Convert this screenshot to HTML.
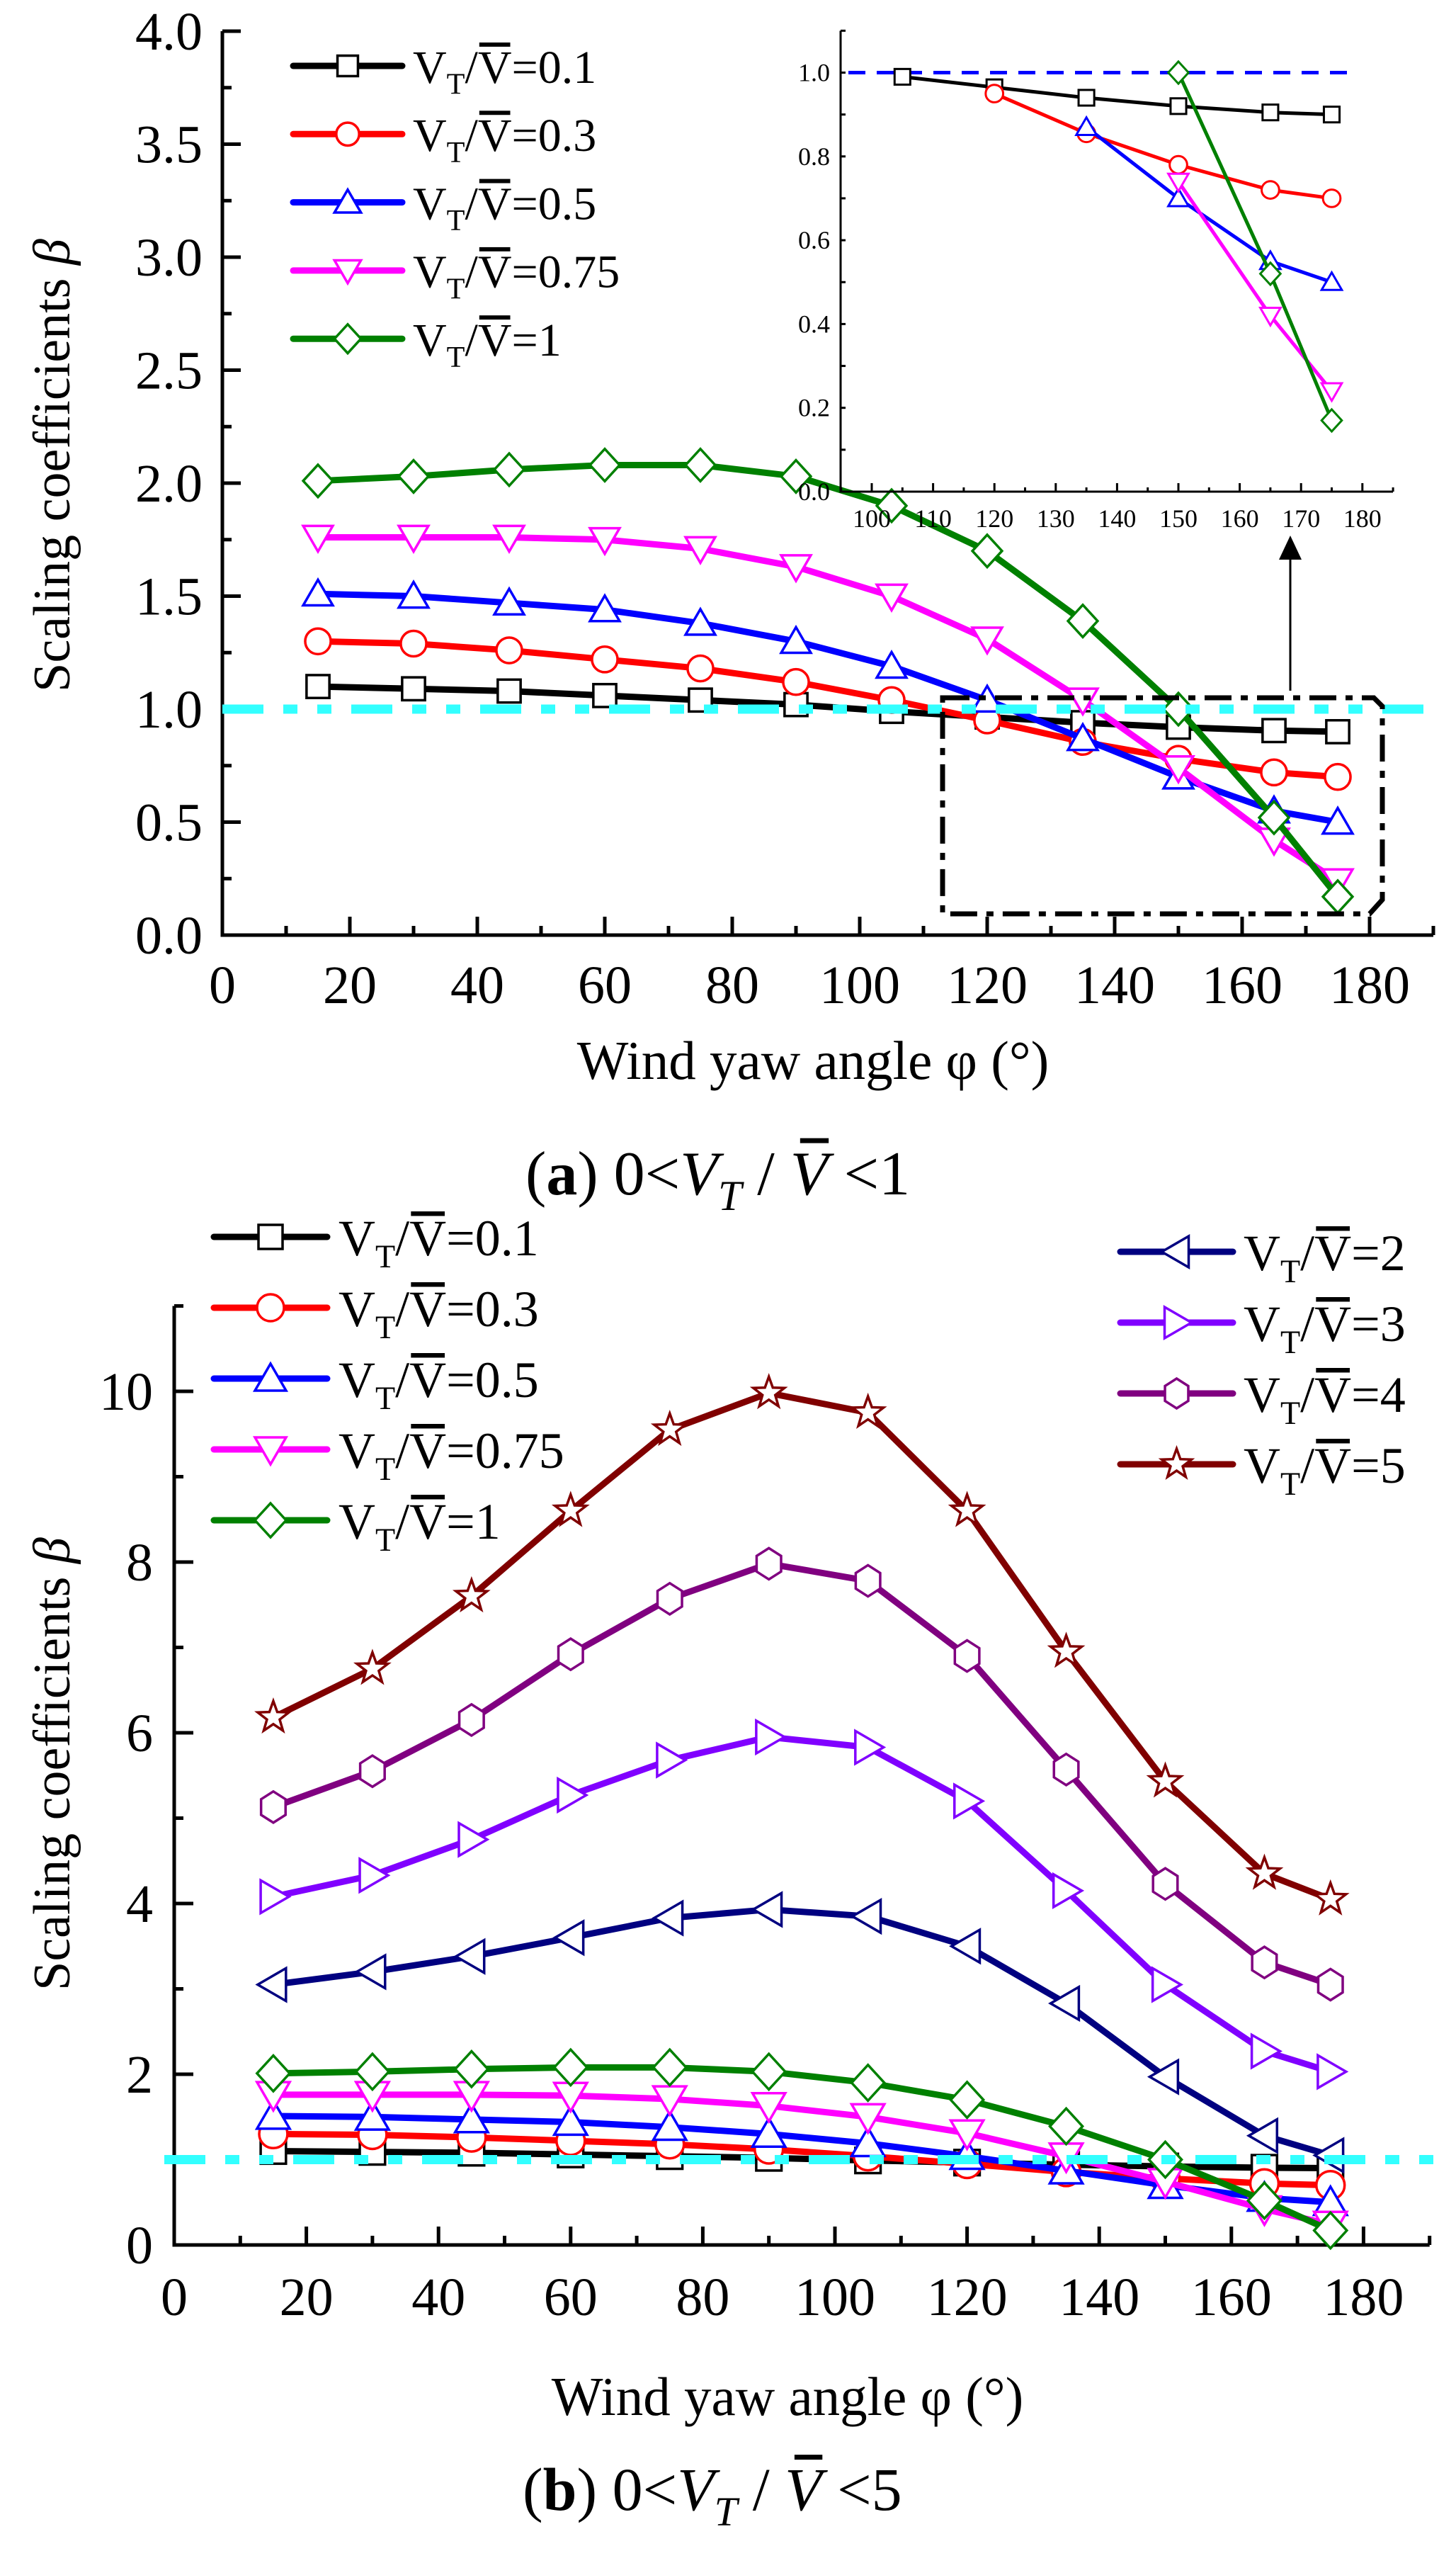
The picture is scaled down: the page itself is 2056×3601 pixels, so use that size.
<!DOCTYPE html>
<html><head><meta charset="utf-8">
<style>
html,body{margin:0;padding:0;background:#fff;}
svg{display:block;}
svg text, svg tspan{font-family:"Times New Roman","Liberation Serif","DejaVu Serif","Noto Serif CJK SC",serif !important;}
</style></head>
<body>
<svg id="fig" width="2056" height="3601" viewBox="0 0 2056 3601" xmlns="http://www.w3.org/2000/svg">
<rect width="2056" height="3601" fill="#fff"/>
</svg>
<script>
// ---------- data ----------
const anglesA = [15,30,45,60,75,90,105,120,135,150,165,175];
const ratio01 = [1.10,1.09,1.08,1.06,1.04,1.02,0.99,0.965,0.94,0.92,0.905,0.90];
const ratio03 = [1.30,1.29,1.26,1.22,1.18,1.12,1.04,0.95,0.855,0.78,0.72,0.70];
const ratio05 = [1.51,1.50,1.47,1.44,1.38,1.30,1.19,1.04,0.87,0.70,0.55,0.50];
const ratio075 = [1.76,1.76,1.76,1.75,1.71,1.63,1.50,1.31,1.04,0.74,0.42,0.24];
const ratio1 = [2.01,2.03,2.06,2.08,2.08,2.03,1.90,1.70,1.39,1.00,0.52,0.17];
const ratio2 = [3.05,3.20,3.38,3.60,3.83,3.93,3.85,3.50,2.83,1.97,1.28,1.05];
const ratio3 = [4.08,4.33,4.75,5.27,5.68,5.95,5.83,5.20,4.15,3.05,2.27,2.03];
const ratio4 = [5.13,5.55,6.15,6.92,7.57,7.98,7.78,6.90,5.57,4.23,3.31,3.05];
const ratio5 = [6.18,6.75,7.60,8.60,9.55,9.98,9.75,8.60,6.95,5.43,4.35,4.05];
const xTicksMain = [0,20,40,60,80,100,120,140,160,180];
const yTicksA = ["0.0","0.5","1.0","1.5","2.0","2.5","3.0","3.5","4.0"];
const yTicksB = [0,2,4,6,8,10];
const xTicksInset = [100,110,120,130,140,150,160,170,180];
const yTicksInset = ["0.0","0.2","0.4","0.6","0.8","1.0"];
const labelsLow = ["0.1","0.3","0.5","0.75","1"];
const labelsHigh = ["2","3","4","5"];

// ---------- scales ----------
const xA = v => 314 + v*9;
const yA = v => 1320 - v*319;
const xI = v => 1231 + (v-100)*8.66;
const yI = v => 694 - v*591.5;
const xB = v => 246 + v*9.33;
const yB = v => 3169 - v*120.5;

const NS = "http://www.w3.org/2000/svg";
const FF = "Times New Roman, Liberation Serif, DejaVu Serif, Noto Serif CJK SC, serif";
const svg = document.getElementById('fig');
function mk(tag, attrs, parent){
  const e = document.createElementNS(NS, tag);
  for (const k in attrs) e.setAttribute(k, attrs[k]);
  if (tag==='text') e.setAttribute('font-family', FF);
  (parent||svg).appendChild(e);
  return e;
}

const styles = [
  {c:"#000000", m:"square"},
  {c:"#ff0000", m:"circle"},
  {c:"#0000ff", m:"up"},
  {c:"#ff00ff", m:"down"},
  {c:"#008000", m:"diamond"}
];
const stylesHigh = [
  {c:"#000080", m:"left"},
  {c:"#8000ff", m:"right"},
  {c:"#800080", m:"hex"},
  {c:"#800000", m:"star"}
];
const seriesLow = [ratio01, ratio03, ratio05, ratio075, ratio1];
const seriesHigh = [ratio2, ratio3, ratio4, ratio5];

function marker(g, shape, cx, cy, s, color, sw){
  let el;
  const h = s/2;
  if (shape==="square") el = mk('rect',{x:cx-h*0.85,y:cy-h*0.85,width:s*0.85,height:s*0.85},g);
  else if (shape==="circle") el = mk('circle',{cx:cx,cy:cy,r:h*0.95},g);
  else if (shape==="up") el = mk('polygon',{points:`${cx},${cy-h*1.05} ${cx+h*1.1},${cy+h*0.85} ${cx-h*1.1},${cy+h*0.85}`},g);
  else if (shape==="down") el = mk('polygon',{points:`${cx},${cy+h*1.05} ${cx+h*1.1},${cy-h*0.85} ${cx-h*1.1},${cy-h*0.85}`},g);
  else if (shape==="diamond") el = mk('polygon',{points:`${cx},${cy-h*1.2} ${cx+h*1.1},${cy} ${cx},${cy+h*1.2} ${cx-h*1.1},${cy}`},g);
  else if (shape==="left") el = mk('polygon',{points:`${cx-h*1.05},${cy} ${cx+h*0.85},${cy-h*1.1} ${cx+h*0.85},${cy+h*1.1}`},g);
  else if (shape==="right") el = mk('polygon',{points:`${cx+h*1.05},${cy} ${cx-h*0.85},${cy-h*1.1} ${cx-h*0.85},${cy+h*1.1}`},g);
  else if (shape==="hex"){
    let p=[]; for(let i=0;i<6;i++){const a=Math.PI/2+i*Math.PI/3;p.push((cx+h*0.95*Math.cos(a))+","+(cy+h*1.05*Math.sin(a)));}
    el = mk('polygon',{points:p.join(' ')},g);
  } else if (shape==="star"){
    let p=[]; for(let i=0;i<10;i++){const a=-Math.PI/2+i*Math.PI/5;const r=i%2?h*0.45:h*1.1;p.push((cx+r*Math.cos(a))+","+(cy+r*Math.sin(a)));}
    el = mk('polygon',{points:p.join(' ')},g);
  }
  el.setAttribute('fill','#fff');
  el.setAttribute('stroke',color);
  el.setAttribute('stroke-width',sw);
  
  
  return el;
}

function drawSeries(xs, ys, xf, yf, st, lw, ms, msw, name){
  const g = mk('g',{});
  
  
  const pts = xs.map((x,i)=>xf(x)+","+yf(ys[i])).join(' ');
  const pl = mk('polyline',{points:pts,fill:'none',stroke:st.c,'stroke-width':lw,'stroke-linejoin':'round','stroke-linecap':'round'},g);
  
  
  xs.forEach((x,i)=>marker(g, st.m, xf(x), yf(ys[i]), ms, st.c, msw));
}

function text(str, x, y, size, anchor, parent){
  const t = mk('text',{x:x,y:y,'font-size':size,'text-anchor':anchor||'start',fill:'#000'},parent);
  t.textContent = str;
  return t;
}

function legendLabel(x, y, fs, val, name){
  const t = mk('text',{x:x,y:y,'font-size':fs,fill:'#000'});
  
  
  const a = mk('tspan',{},t); a.textContent="V";
  const b = mk('tspan',{dy:fs*0.24,'font-size':fs*0.64},t); b.textContent="T";
  const c = mk('tspan',{dy:-fs*0.24},t); c.textContent="/V="+val;
  const s = t.getStartPositionOfChar(3), e = t.getEndPositionOfChar(3);
  const bar = mk('rect',{x:s.x+fs*0.03,y:y-fs*0.66-fs*0.2,width:e.x-s.x-fs*0.06,height:fs*0.09,fill:'#000'});
  
  
}

function legendEntry(x1, x2, y, st, lw, ms, tx, fs, val, name){
  const g = mk('g',{});
  
  
  mk('line',{x1:x1,y1:y,x2:x2,y2:y,stroke:st.c,'stroke-width':lw,'stroke-linecap':'round'},g);
  marker(g, st.m, (x1+x2)/2, y, ms, st.c, 3.5);
  legendLabel(tx, y+fs*0.36, fs, val, name+'-label');
}

function caption(x, y, fs, letter, upper, name){
  const cap = mk('text',{x:x,y:y,'font-size':fs});
  
  
  cap.innerHTML = '(<tspan font-weight="bold">'+letter+'</tspan>) 0&lt;<tspan font-style="italic">V</tspan><tspan font-style="italic" font-size="'+(fs*0.68)+'" dy="22">T</tspan><tspan dy="-22"> / </tspan><tspan font-style="italic">V</tspan> &lt;'+upper;
  const s = cap.getStartPositionOfChar(11), e = cap.getEndPositionOfChar(11);
  const bar = mk('rect',{x:s.x+fs*0.16,y:y-fs*0.72-16,width:(e.x-s.x)*0.75,height:7,fill:'#000'});
  
  
}

// ---------- Panel A ----------
(function(){
  const ax = mk('g',{});
  
  
  mk('path',{d:`M${xA(0)},${yA(4)} V${yA(0)} H${xA(190)}`,fill:'none',stroke:'#000','stroke-width':5},ax);
  for(let v=0; v<=4.001; v+=0.25){
    const major = Math.abs(v*2-Math.round(v*2))<1e-6;
    mk('line',{x1:xA(0),y1:yA(v),x2:xA(0)+(major?26:13),y2:yA(v),stroke:'#000','stroke-width':5},ax);
  }
  yTicksA.forEach(l=>{const t=text(l,286,yA(parseFloat(l))+26,76,'end',ax);
    
    });
  for(let v=10; v<=190; v+=10){
    const major = v%20===0;
    mk('line',{x1:xA(v),y1:yA(0),x2:xA(v),y2:yA(0)-(major?26:13),stroke:'#000','stroke-width':5},ax);
  }
  xTicksMain.forEach(v=>{const t=text(String(v),xA(v),1416,76,'middle',ax);
    
    });
  const xt = text("Wind yaw angle φ (°)",1148,1523,77,'middle');
  
  
  const yt = mk('text',{x:0,y:0,'font-size':74,'text-anchor':'middle',transform:'translate(98,657) rotate(-90)'});
  
  
  yt.innerHTML = 'Scaling coefficients  <tspan font-style="italic">β</tspan>';

  seriesLow.forEach((s,i)=>drawSeries(anglesA,s,xA,yA,styles[i],9,38,3.5,'series-a-'+labelsLow[i]));

  const cl = mk('line',{x1:xA(0),y1:yA(1),x2:2020,y2:yA(1),stroke:'#33ffff','stroke-width':13,'stroke-dasharray':'58 28 20 28 20 28'});
  
  

  const zb = mk('path',{d:'M1331,985 H1940 L1952,997 V1270 L1934,1290 H1331 Z',fill:'none',stroke:'#000','stroke-width':7,'stroke-dasharray':'38 13 10 13'});
  
  
  const ar = mk('line',{x1:1822,y1:975,x2:1822,y2:780,stroke:'#000','stroke-width':3});
  
  
  const ah = mk('polygon',{points:'1822,756 1806,790 1838,790',fill:'#000'});
  
  

  labelsLow.forEach((l,i)=>legendEntry(414,568,93+i*96.3,styles[i],9,34,583,66,l,'legend-a-'+l));

  caption(742,1686,88,'a','1','caption-a');
})();

// ---------- Inset ----------
(function(){
  const g = mk('g',{});
  
  
  mk('path',{d:`M1187,${yI(1.1)} V${yI(0)} H1967`,fill:'none',stroke:'#000','stroke-width':3},g);
  for(let v=0; v<=1.1001; v+=0.1){
    mk('line',{x1:1187,y1:yI(v),x2:1194,y2:yI(v),stroke:'#000','stroke-width':3},g);
  }
  yTicksInset.forEach(l=>{const t=text(l,1172,yI(parseFloat(l))+12,36,'end',g);
    
    });
  for(let v=95; v<=185; v+=5){
    const major = v%10===0;
    mk('line',{x1:xI(v),y1:yI(0),x2:xI(v),y2:yI(0)-(major?12:6),stroke:'#000','stroke-width':3},g);
  }
  xTicksInset.forEach(v=>{const t=text(String(v),xI(v),744,36,'middle',g);
    
    });
  const dl = mk('line',{x1:1198,y1:yI(1),x2:1905,y2:yI(1),stroke:'#0000ff','stroke-width':5,'stroke-dasharray':'24 16'},g);
  
  
  const startIdx = [6,7,8,9,9];
  seriesLow.forEach((s,i)=>{
    drawSeries(anglesA.slice(startIdx[i]), s.slice(startIdx[i]), xI, yI, styles[i], 5, 26, 3, 'inset-series-'+labelsLow[i]);
  });
})();

// ---------- Panel B ----------
(function(){
  const ax = mk('g',{});
  
  
  mk('path',{d:`M${xB(0)},${yB(11)} V${yB(0)} H${xB(190)}`,fill:'none',stroke:'#000','stroke-width':5},ax);
  for(let v=0; v<=11; v+=1){
    const major = v%2===0;
    mk('line',{x1:xB(0),y1:yB(v),x2:xB(0)+(major?27:13),y2:yB(v),stroke:'#000','stroke-width':5},ax);
  }
  yTicksB.forEach(v=>{const t=text(String(v),216,yB(v)+26,76,'end',ax);
    
    });
  for(let v=10; v<=190; v+=10){
    const major = v%20===0;
    mk('line',{x1:xB(v),y1:yB(0),x2:xB(v),y2:yB(0)-(major?26:13),stroke:'#000','stroke-width':5},ax);
  }
  xTicksMain.forEach(v=>{const t=text(String(v),xB(v),3268,76,'middle',ax);
    
    });
  const xt = text("Wind yaw angle φ (°)",1112,3409,77,'middle');
  
  
  const yt = mk('text',{x:0,y:0,'font-size':74,'text-anchor':'middle',transform:'translate(98,2490) rotate(-90)'});
  
  
  yt.innerHTML = 'Scaling coefficients  <tspan font-style="italic">β</tspan>';

  seriesLow.forEach((s,i)=>drawSeries(anglesA,s,xB,yB,styles[i],9,42,3.5,'series-b-'+labelsLow[i]));
  seriesHigh.forEach((s,i)=>drawSeries(anglesA,s,xB,yB,stylesHigh[i],9,42,3.5,'series-b-'+labelsHigh[i]));

  const cl = mk('line',{x1:xB(0)-14,y1:yB(1),x2:2040,y2:yB(1),stroke:'#33ffff','stroke-width':13,'stroke-dasharray':'58 28 20 28 20 28'});
  
  

  labelsLow.forEach((l,i)=>legendEntry(302,462,1746+i*100,styles[i],9,40,478,72,l,'legend-b-'+l));
  labelsHigh.forEach((l,i)=>legendEntry(1582,1741,1767+i*100,stylesHigh[i],9,40,1756,72,l,'legend-b-'+l));

  caption(738,3543,86,'b','5','caption-b');
})();
</script>
</body></html>
